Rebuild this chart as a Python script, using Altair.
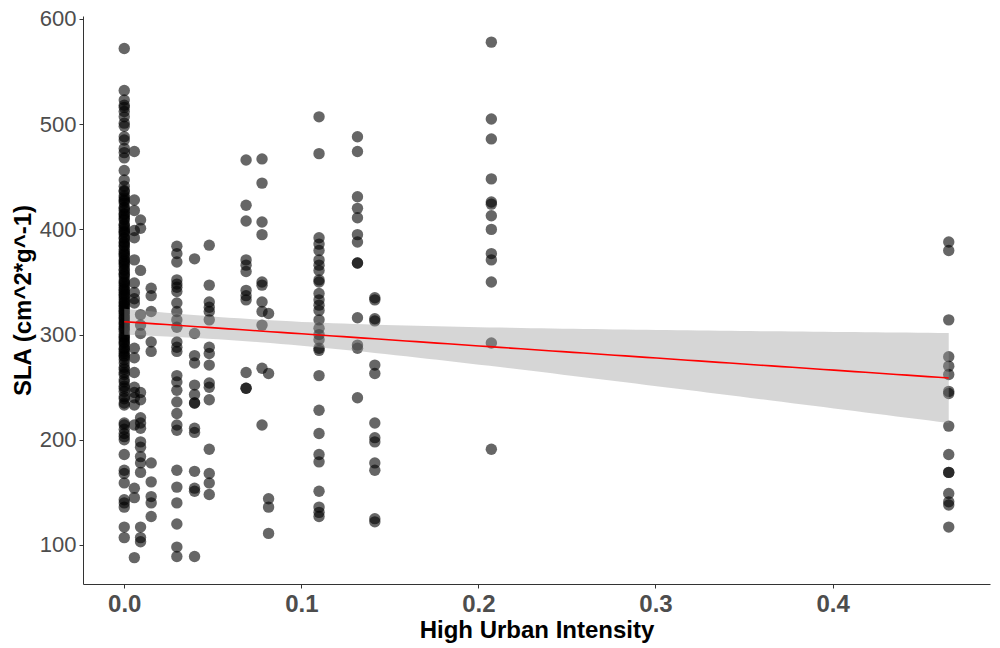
import altair as alt
import numpy as np
import pandas as pd

# SLA values read per urban-intensity column
x_vals = [0.0, 0.0057, 0.0092, 0.0152, 0.0297, 0.0397, 0.048, 0.0688, 0.0778, 0.0815,
          0.110, 0.1317, 0.1415, 0.2073, 0.4656]

c0000 = [572, 532, 523, 518, 516, 512, 507, 501, 498, 488, 485, 477, 473, 468, 456, 447, 441,
         437, 436, 432, 430, 428, 427, 425, 421, 420, 418, 415, 414, 412, 410, 409, 405, 404, 402,
         400, 398, 397, 395, 392, 391, 388, 387, 385, 384, 381, 379, 377, 376, 374, 371, 370, 368,
         367, 365, 362, 361, 358, 357, 355, 352, 350, 349, 347, 345, 343, 342, 340, 338, 337, 335,
         333, 331, 330, 328, 327, 325, 323, 322, 320, 318, 316, 315, 313, 311, 310, 308, 306, 305,
         303, 300, 298, 297, 295, 293, 292, 290, 287, 286, 284, 282, 280, 279, 276, 273, 269, 267,
         264, 262, 257, 255, 251, 249, 246, 241, 239, 235, 233, 216, 214, 210, 206, 203, 200, 186,
         171, 168, 159, 143, 140, 136, 117, 107]
c0057 = [474, 428, 418, 399, 392, 371, 349, 340, 334, 330, 287, 278, 264, 250, 245, 240, 233,
         214, 154, 145, 88]
c0092 = [409, 401, 361, 319, 309, 301, 245, 238, 221, 216, 211, 198, 193, 184, 178, 169, 117,
         107, 103]
c0152 = [344, 337, 322, 293, 284, 178, 160, 146, 140, 127]
c0297 = [384, 377, 369, 352, 348, 345, 341, 330, 322, 314, 307, 293, 288, 284, 261, 255, 247,
         236, 225, 214, 209, 171, 155, 140, 120, 98, 89]
c0397 = [372, 301, 280, 273, 252, 243, 235, 235, 211, 207, 170, 154, 151, 89]
c0480 = [385, 347, 331, 326, 322, 314, 288, 282, 271, 254, 250, 238, 191, 168, 159, 148]
c0688 = [466, 423, 408, 371, 366, 360, 342, 337, 333, 264, 249, 249]
c0778 = [467, 444, 407, 395, 350, 347, 331, 322, 309, 268, 214]
c0815 = [320, 263, 144, 136, 111]
c1100 = [507, 472, 392, 386, 380, 371, 366, 361, 352, 350, 339, 333, 328, 323, 314, 306, 300,
         295, 287, 285, 261, 228, 206, 186, 179, 151, 136, 131, 127]
c1317 = [488, 474, 431, 420, 411, 395, 388, 368, 368, 316, 290, 287, 240]
c1415 = [335, 333, 315, 313, 271, 263, 216, 202, 198, 178, 171, 125, 122]
c2073 = [578, 505, 486, 448, 426, 424, 413, 400, 377, 371, 350, 292, 191]
c4656 = [388, 380, 314, 279, 270, 262, 246, 244, 213, 186, 169, 169, 149, 141, 138, 117]

columns = [c0000, c0057, c0092, c0152, c0297, c0397, c0480, c0688, c0778, c0815,
           c1100, c1317, c1415, c2073, c4656]

rows = []
for xv, col in zip(x_vals, columns):
    for v in col:
        rows.append({"urban": xv, "sla": v})
df = pd.DataFrame(rows)

# linear fit with 95% confidence band (as geom_smooth(method="lm"))
X = df["urban"].to_numpy(float)
Y = df["sla"].to_numpy(float)
n = len(X)
xb = X.mean()
sxx = ((X - xb) ** 2).sum()
b1 = ((X - xb) * (Y - Y.mean())).sum() / sxx
b0 = Y.mean() - b1 * xb
res = Y - (b0 + b1 * X)
s = np.sqrt((res ** 2).sum() / (n - 2))
tq = 1.966
xs = np.linspace(X.min(), X.max(), 80)
fit = b0 + b1 * xs
se = s * np.sqrt(1 / n + (xs - xb) ** 2 / sxx)
band = pd.DataFrame({"urban": xs, "fit": fit, "lo": fit - tq * se, "hi": fit + tq * se})

xscale = alt.Scale(domain=[-0.0233, 0.4889], nice=False, zero=False)
yscale = alt.Scale(domain=[62.9, 602.85], nice=False, zero=False)

xaxis = alt.Axis(title="High Urban Intensity", values=[0.0, 0.1, 0.2, 0.3, 0.4], format=".1f",
                 grid=False, labelFontSize=24, labelFontWeight="bold", labelColor="#4d4d4d",
                 labelFont="Liberation Sans", titleFont="Liberation Sans", titleFontSize=24,
                 titleFontWeight="bold", titleColor="#000000", tickSize=4, tickColor="#333333",
                 domainColor="#333333", labelPadding=4, titlePadding=2)
yaxis = alt.Axis(title="SLA (cm^2*g^-1)", values=[100, 200, 300, 400, 500, 600], grid=False,
                 labelFontSize=22, labelFontWeight="normal", labelColor="#4d4d4d",
                 labelFont="Liberation Sans", titleFont="Liberation Sans", titleFontSize=24,
                 titleFontWeight="bold", titleColor="#000000", tickSize=4, tickColor="#333333",
                 domainColor="#333333", labelPadding=3, titlePadding=4)

points = alt.Chart(df).mark_circle(size=130, color="#000000", opacity=0.6).encode(
    x=alt.X("urban:Q", scale=xscale, axis=xaxis),
    y=alt.Y("sla:Q", scale=yscale, axis=yaxis),
)
ribbon = alt.Chart(band).mark_area(color="#999999", opacity=0.4).encode(
    x=alt.X("urban:Q", scale=xscale),
    y=alt.Y("lo:Q", scale=yscale),
    y2="hi:Q",
)
line = alt.Chart(band).mark_line(color="#ff0000", strokeWidth=1.6).encode(
    x=alt.X("urban:Q", scale=xscale),
    y=alt.Y("fit:Q", scale=yscale),
)

chart = alt.layer(points, ribbon, line).properties(
    width=907, height=568,
    autosize=alt.AutoSizeParams(type="none"),
    padding={"left": 75, "top": 8, "right": 2, "bottom": 64},
).configure(background="white").configure_view(stroke=None)

chart.save("out.html", embed_options={"renderer": "svg", "actions": False})
